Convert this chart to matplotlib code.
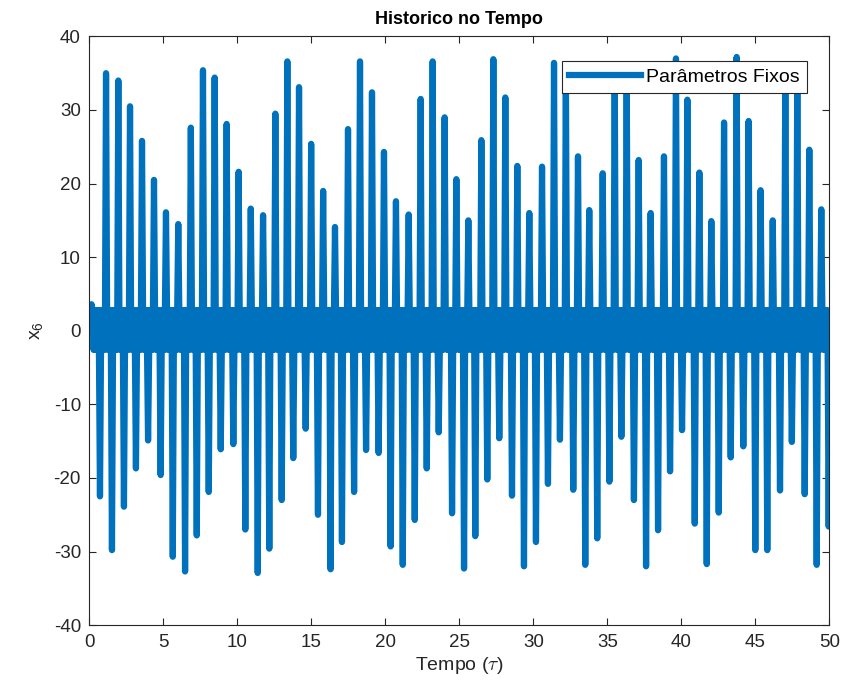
import numpy as np
import matplotlib
matplotlib.use("Agg")
import matplotlib.pyplot as plt

plt.rcParams["font.family"] = ["Liberation Sans", "DejaVu Sans"]
plt.rcParams["mathtext.fontset"] = "cm"
plt.rcParams["axes.unicode_minus"] = False

# Positive spike tops: time and value of x6
peak_t = [1.13, 1.96, 2.75, 3.56, 4.37, 5.18, 6.01, 6.86, 7.68, 8.47,
          9.28, 10.09, 10.91, 11.74, 12.57, 13.38, 14.17, 14.99, 15.80, 16.60,
          17.48, 18.29, 19.10, 19.91, 20.72, 21.58, 22.39, 23.20, 24.01, 24.80,
          25.61, 26.49, 27.30, 28.11, 28.92, 29.73, 30.59, 31.40, 32.20, 33.02,
          33.78, 34.69, 35.50, 36.31, 37.12, 37.93, 38.83, 39.64, 40.41, 41.22,
          42.03, 42.89, 43.74, 44.55, 45.36, 46.18, 47.03, 47.84, 48.65, 49.46]
peak_v = [35.0, 34.0, 30.5, 25.8, 20.5, 16.1, 14.5, 27.6, 35.4, 34.4,
          28.1, 21.6, 16.6, 15.7, 29.5, 36.6, 33.1, 25.4, 19.0, 14.1,
          27.4, 36.6, 32.4, 24.3, 17.6, 15.8, 31.5, 36.6, 29.0, 20.6,
          15.0, 25.9, 36.9, 31.7, 22.4, 16.0, 22.3, 36.4, 35.5, 23.7,
          16.4, 21.4, 36.0, 35.6, 23.2, 16.0, 23.7, 37.0, 31.4, 21.5,
          14.9, 28.3, 37.2, 28.5, 19.1, 15.0, 36.2, 35.4, 24.6, 16.5]

# Negative spike bottoms
trough_t = [0.72, 1.53, 2.34, 3.15, 3.97, 4.82, 5.64, 6.47, 7.26, 8.07,
            8.88, 9.73, 10.54, 11.38, 12.16, 13.00, 13.78, 14.62, 15.45, 16.30,
            17.07, 17.89, 18.70, 19.55, 20.36, 21.18, 21.99, 22.80, 23.61, 24.51,
            25.32, 26.08, 26.89, 27.70, 28.56, 29.37, 30.18, 30.99, 31.80, 32.70,
            33.51, 34.32, 35.14, 35.95, 36.80, 37.62, 38.43, 39.24, 40.05, 40.91,
            41.72, 42.53, 43.34, 44.19, 45.00, 45.81, 46.67, 47.47, 48.34, 49.15,
            49.96]
trough_v = [-22.5, -29.8, -23.9, -18.7, -14.9, -19.6, -30.7, -32.7, -27.8, -21.9,
            -16.1, -15.4, -27.0, -32.9, -29.6, -23.0, -17.3, -13.3, -25.0, -32.4,
            -28.7, -21.9, -16.2, -16.6, -29.3, -31.8, -25.7, -18.7, -13.8, -24.8,
            -32.3, -27.9, -20.2, -14.6, -22.4, -32.0, -28.7, -20.8, -14.8, -21.6,
            -31.8, -28.2, -20.5, -14.4, -23.0, -32.0, -27.1, -19.1, -13.5, -26.2,
            -31.7, -24.7, -17.2, -15.7, -29.8, -29.8, -21.7, -15.1, -22.2, -31.8,
            -26.6]

# fast oscillation band around zero between the spikes
band_hi, band_lo = 2.8, -2.6
start_t = [0.0, 0.15]
start_v = [0.0, 3.6]

BLUE = "#0072BD"
AXC = "#262626"


def build_trace():
    events = sorted(zip(peak_t + trough_t, peak_v + trough_v))
    ts, vs = list(start_t), list(start_v)
    hw = 0.07
    prev_end = start_t[-1]
    for t, v in events:
        # ripple across the band until the next spike starts
        rip = np.linspace(prev_end, t - hw, 8)[1:]
        for k, rt in enumerate(rip):
            ts.append(rt)
            vs.append(band_hi if k % 2 == 0 else band_lo)
        base = band_hi if v > 0 else band_lo
        ts += [t - hw, t, t + hw]
        vs += [base, v, base]
        prev_end = t + hw
    return np.array(ts), np.array(vs)


t, x6 = build_trace()

fig = plt.figure(figsize=(8.45, 6.98), dpi=100)
ax = fig.add_axes([0.1057, 0.1043, 0.8757, 0.8436])
ax.plot(t, x6, color=BLUE, linewidth=4.5, solid_joinstyle="round",
        label="Parâmetros Fixos")

ax.set_xlim(0, 50)
ax.set_ylim(-40, 40)
ax.set_xticks(np.arange(0, 51, 5))
ax.set_yticks(np.arange(-40, 41, 10))
ax.tick_params(direction="in", length=5, width=0.8, colors=AXC,
               labelsize=13.5, top=True, right=True, pad=6)
for s in ax.spines.values():
    s.set_color(AXC)
    s.set_linewidth(0.8)

ax.set_title("Historico no Tempo", fontsize=13, fontweight="bold", pad=9)
ax.set_xlabel(r"Tempo ($\tau$)", fontsize=14, color=AXC, labelpad=3)
ax.set_ylabel(r"$\mathregular{x_6}$", fontsize=14, color=AXC, labelpad=6)

leg = ax.legend(loc="upper right", bbox_to_anchor=(0.9695, 0.9587),
                borderaxespad=0, fancybox=False, framealpha=1,
                fontsize=14, handlelength=3.7, borderpad=0.38,
                handletextpad=0.25)
leg.get_frame().set_edgecolor(AXC)
leg.get_frame().set_linewidth(0.8)

fig.savefig("out.png", dpi=100)
